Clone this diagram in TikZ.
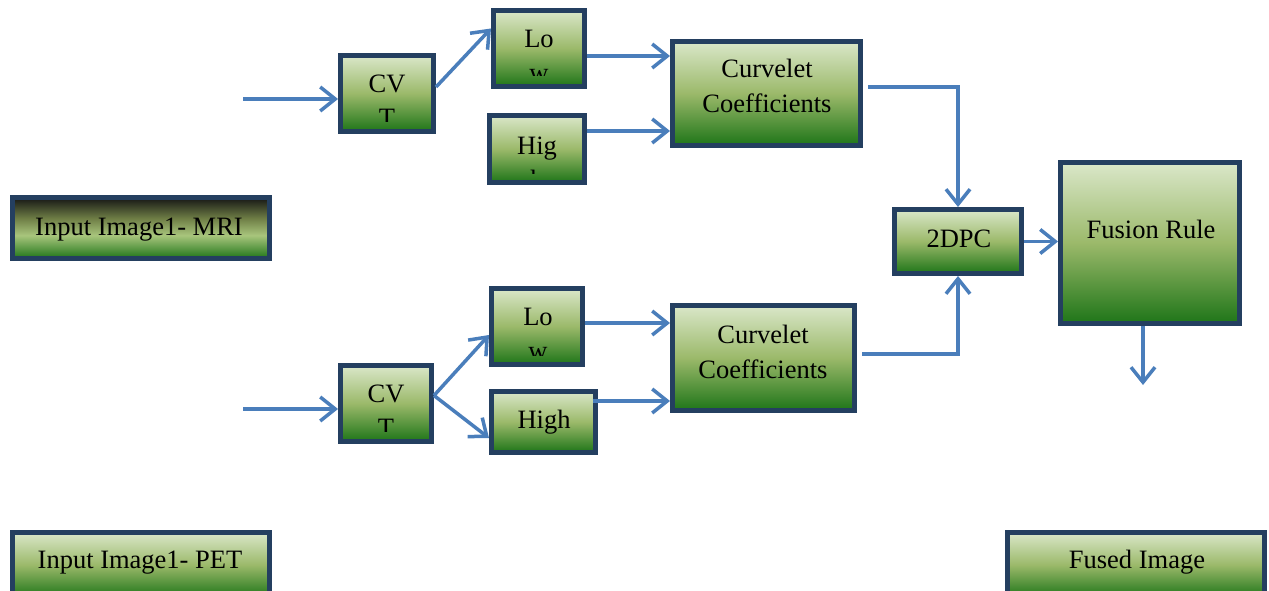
\documentclass[tikz,border=0pt]{standalone}
\usepackage{fontspec}
\setmainfont{Liberation Serif}
\usetikzlibrary{arrows.meta}

\definecolor{boxborder}{HTML}{243F60}
\definecolor{flowblue}{HTML}{4A7EBB}
\definecolor{gtop}{HTML}{DAE7C9}
\definecolor{gmid}{HTML}{9BB96A}
\definecolor{gbot}{HTML}{1E7518}
\definecolor{dtop}{HTML}{151515}
\definecolor{dolive}{HTML}{6E7D45}
\definecolor{dlight}{HTML}{A8C57C}

% light-to-dark green, top to bottom
\pgfdeclareverticalshading{greenshade}{100bp}{color(0bp)=(gbot); color(25bp)=(gbot); color(50bp)=(gmid); color(75bp)=(gtop); color(100bp)=(gtop)}
% dark top band, light middle, green bottom
\pgfdeclareverticalshading{darkshade}{100bp}{color(0bp)=(gbot); color(25bp)=(gbot); color(44bp)=(dlight); color(58bp)=(dolive); color(75bp)=(dtop); color(100bp)=(dtop)}

\tikzset{
  gbox/.style={draw=boxborder, line width=5pt, shading=greenshade, inner sep=0pt},
  dbox/.style={gbox, shading=darkshade},
  txt/.style={inner sep=0pt, anchor=base, font=\fontsize{26.5}{34}\selectfont},
  flow/.style={draw=flowblue, line width=3.5pt, -{Straight Barb[length=15pt,width=24pt]}}
}

% box from outer corners (x1,y1)-(x2,y2), in pixel units
\newcommand\greenbox[6]{%
  \node[#6, minimum width={(#4-#2-5)*1pt}, minimum height={(#5-#3-5)*1pt}]
    (#1) at ({(#2+#4)/2},{(#3+#5)/2}) {};}

\begin{document}
\begin{tikzpicture}[x=1pt,y=-1pt]
\clip (0,0) rectangle (1269,591);
\fill[white] (0,0) rectangle (1269,591);

% boxes
\greenbox{cvtA}{338}{53}{436}{134}{gbox}
\greenbox{lowA}{491}{8}{587}{89}{gbox}
\greenbox{highA}{487}{113}{587}{185}{gbox}
\greenbox{coefA}{670}{39}{863}{148}{gbox}
\greenbox{mri}{10}{195}{272}{261}{dbox}
\greenbox{dpc}{892}{207}{1024}{276}{gbox}
\greenbox{fusion}{1058}{160}{1242}{326}{gbox}
\greenbox{lowB}{489}{286}{585}{367}{gbox}
\greenbox{highB}{489}{389}{598}{455}{gbox}
\greenbox{cvtB}{338}{363}{434}{444}{gbox}
\greenbox{coefB}{670}{303}{857}{413}{gbox}
\greenbox{pet}{10}{530}{272}{600}{gbox}
\greenbox{fused}{1005}{530}{1267}{600}{gbox}

% labels, cut off at the lower edge of each box
\begin{scope}
  \clip (343,58) rectangle (431,122);
  \node[txt] (cvtAa) at (387,93) {CV};
  \node[txt] (cvtAb) at (387,127) {T};
\end{scope}
\begin{scope}
  \clip (496,13) rectangle (582,76);
  \node[txt] (lowAa) at (539,48) {Lo};
  \node[txt] (lowAb) at (539,82) {w};
\end{scope}
\begin{scope}
  \clip (492,118) rectangle (582,173);
  \node[txt] (highAa) at (537,155) {Hig};
  \node[txt] (highAb) at (537,189) {h};
\end{scope}
\begin{scope}
  \clip (494,291) rectangle (580,355);
  \node[txt] (lowBa) at (538,325) {Lo};
  \node[txt] (lowBb) at (538,359) {w};
\end{scope}
\begin{scope}
  \clip (343,368) rectangle (429,431);
  \node[txt] (cvtBa) at (386,402) {CV};
  \node[txt] (cvtBb) at (386,436) {T};
\end{scope}

\node[txt] (highBt) at (544,428) {High};
\node[txt] (coefAa) at (767,78) {Curvelet};
\node[txt] (coefAb) at (767,113) {Coefficients};
\node[txt] (coefBa) at (763,343) {Curvelet};
\node[txt] (coefBb) at (763,378) {Coefficients};
\node[txt] (dpct) at (959,247) {2DPC};
\node[txt] (fusiont) at (1151,238) {Fusion Rule};
\node[txt] (mrit) at (139,235) {Input Image1- MRI};
\node[txt] (pett) at (140,568) {Input Image1- PET};
\node[txt] (fusedt) at (1137,568) {Fused Image};

% free ends of the connectors
\coordinate (inA) at (243,99);
\coordinate (inB) at (243,409);
\coordinate (out) at (1143,385);

% upper branch
\draw[flow] (inA) -- (inA -| cvtA.west);
\draw[flow] ([yshift=6.5pt]cvtA.east) -- ([yshift=20pt]lowA.west);
\draw[flow] ([yshift=-7.5pt]lowA.east) -- ([yshift=-7.5pt]lowA.east -| coefA.west);
\draw[flow] ([yshift=18pt]highA.east) -- ([yshift=18pt]highA.east -| coefA.west);
\draw[flow] ([xshift=5pt,yshift=6.5pt]coefA.east) -| (dpc.north);

% lower branch
\draw[flow] (inB) -- (inB -| cvtB.west);
\draw[flow] ([yshift=8pt]cvtB.east) -- ([yshift=-8.5pt]lowB.west);
\draw[flow] ([yshift=8pt]cvtB.east) -- ([yshift=-16pt]highB.west);
\draw[flow] ([yshift=3.5pt]lowB.east) -- ([yshift=3.5pt]lowB.east -| coefB.west);
\draw[flow] ([xshift=-5.5pt,yshift=21pt]highB.east) -- ([yshift=21pt]highB.east -| coefB.west);
\draw[flow] ([xshift=5pt,yshift=4pt]coefB.east) -| (dpc.south);

% fusion
\draw[flow] (dpc.east) -- (dpc.east -| fusion.west);
\draw[flow] ([xshift=-7pt]fusion.south) -- (out);
\end{tikzpicture}
\end{document}
